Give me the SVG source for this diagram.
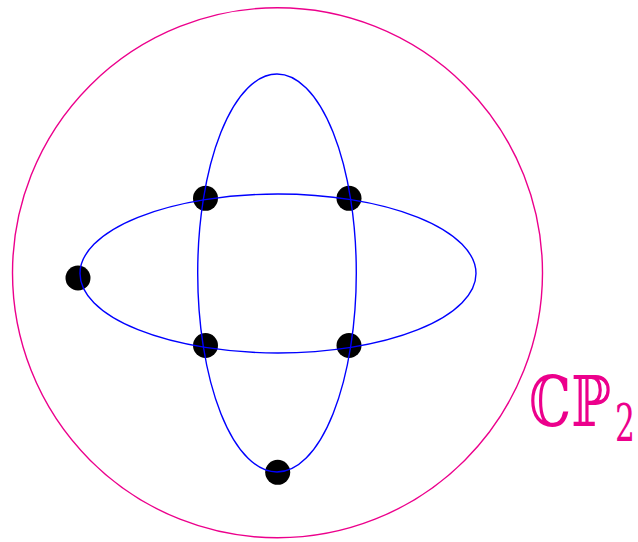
<svg xmlns="http://www.w3.org/2000/svg" width="638" height="542" viewBox="0 0 638 542">
<style>
.dot{fill:#000}
.curve{fill:none;stroke:#0000ff;stroke-width:1.4}
.outer{fill:none;stroke:#ec008c;stroke-width:1.4}
.lbl{fill:#ec008c;font-family:"DejaVu Serif","DejaVu Sans",serif}
</style>
<rect width="638" height="542" fill="#fff"/>
<g id="points">
<circle class="dot" cx="205.5" cy="198.3" r="12.5"/>
<circle class="dot" cx="349" cy="198.3" r="12.5"/>
<circle class="dot" cx="78" cy="278" r="12.5"/>
<circle class="dot" cx="205.5" cy="345.5" r="12.5"/>
<circle class="dot" cx="349" cy="345.5" r="12.5"/>
<circle class="dot" cx="277.7" cy="472.3" r="12.5"/>
</g>
<g id="connectors">
<circle id="cp2" class="outer" cx="277.5" cy="272.8" r="265"/>
<ellipse id="horizontal" class="curve" cx="278" cy="273.5" rx="198" ry="79.5"/>
<ellipse id="vertical" class="curve" cx="277" cy="273" rx="79.3" ry="199"/>
</g>
<g id="label">
<text class="lbl" x="529" y="426" font-size="70"><tspan textLength="82" lengthAdjust="spacingAndGlyphs">ℂℙ</tspan><tspan x="615" y="441" font-size="52" textLength="20" lengthAdjust="spacingAndGlyphs">2</tspan></text>
</g>
</svg>
